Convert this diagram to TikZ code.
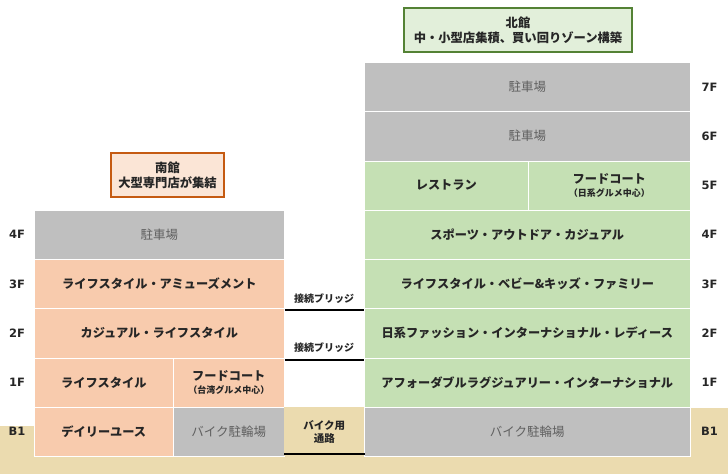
\documentclass[tikz,border=0pt]{standalone}
\usepackage{fontspec}
\newfontfamily\jp{Noto Sans CJK JP}
\newfontfamily\lat{DejaVu Sans}
\definecolor{park}{HTML}{BFBFBF}
\definecolor{peach}{HTML}{F8CBAD}
\definecolor{mint}{HTML}{C5E0B4}
\definecolor{tanbg}{HTML}{EBDBAF}
\definecolor{ink}{HTML}{262626}
\definecolor{parktxt}{HTML}{606060}
\definecolor{ngreen}{HTML}{548235}
\definecolor{ngreenfill}{HTML}{E2EFDA}
\definecolor{sorange}{HTML}{C55A11}
\definecolor{sorangefill}{HTML}{FBE5D6}
\begin{document}
\begin{tikzpicture}[x=1pt,y=-1pt,
  cell/.style={anchor=north west, draw=white, line width=0.6pt, inner sep=0pt,
    minimum height=49.25pt, align=center, text=ink,
    font=\jp\bfseries\fontsize{12.2}{14}\selectfont},
  parkcell/.style={cell, fill=park, text=parktxt, font=\jp\fontsize{12.5}{14}\selectfont},
  shopS/.style={cell, fill=peach},
  shopN/.style={cell, fill=mint},
  floorlbl/.style={font=\lat\bfseries\fontsize{11.5}{12}\selectfont, text=ink},
  titlebox/.style={line width=1.5pt, align=center, inner sep=0pt, minimum height=44pt,
    text=ink, font=\jp\bfseries\fontsize{12.3}{15}\selectfont},
  bridge/.style={line width=2pt, black},
  bridgelbl/.style={font=\jp\bfseries\fontsize{10}{12}\selectfont, text=ink}
]
\useasboundingbox (0,0) rectangle (728,476);
% ground
\fill[tanbg] (0,426) rectangle (728,474);
\fill[tanbg] (691,408) rectangle (728,474);

% titles
\node[titlebox, draw=ngreen, fill=ngreenfill, minimum width=228pt] (ntitle) at (518,30)
  {北館\\中・小型店集積、買い回りゾーン構築};
\node[titlebox, draw=sorange, fill=sorangefill, minimum width=113pt] (stitle) at (167.5,175)
  {南館\\大型専門店が集結};

% south building
\node[parkcell, minimum width=250pt] (s4) at (34,209.75) {駐車場};
\node[shopS, minimum width=250pt] (s3) at (34,259) {ライフスタイル・アミューズメント};
\node[shopS, minimum width=250pt] (s2) at (34,308.25) {カジュアル・ライフスタイル};
\node[shopS, minimum width=139pt] (s1a) at (34,357.5) {ライフスタイル};
\node[shopS, minimum width=111pt] (s1b) at (173,357.5)
  {フードコート\\[-1pt]{\fontsize{9}{11}\selectfont （台湾グルメ中心）}};
\node[shopS, minimum width=139pt] (sB1a) at (34,406.75) {デイリーユース};
\node[parkcell, minimum width=111pt] (sB1b) at (173,406.75) {バイク駐輪場};

% passage
\node[cell, draw=none, fill=tanbg, minimum width=80pt,
  font=\jp\bfseries\fontsize{10.5}{13}\selectfont] (pass) at (284,406.75) {バイク用\\通路};

% north building
\node[parkcell, minimum width=326pt] (n7) at (364,62) {駐車場};
\node[parkcell, minimum width=326pt] (n6) at (364,111.25) {駐車場};
\node[shopN, minimum width=164pt] (n5a) at (364,160.5) {レストラン};
\node[shopN, minimum width=162pt] (n5b) at (528,160.5)
  {フードコート\\[-1pt]{\fontsize{9}{11}\selectfont （日系グルメ中心）}};
\node[shopN, minimum width=326pt] (n4) at (364,209.75) {スポーツ・アウトドア・カジュアル};
\node[shopN, minimum width=326pt] (n3) at (364,259) {ライフスタイル・ベビー\&キッズ・ファミリー};
\node[shopN, minimum width=326pt] (n2) at (364,308.25) {日系ファッション・インターナショナル・レディース};
\node[shopN, minimum width=326pt] (n1) at (364,357.5) {アフォーダブルラグジュアリー・インターナショナル};
\node[parkcell, minimum width=326pt] (nB1) at (364,406.75) {バイク駐輪場};

% floor labels
\node[floorlbl] (l4) at ([xshift=-17pt]s4.west) {4F};
\node[floorlbl] (l3) at ([xshift=-17pt]s3.west) {3F};
\node[floorlbl] (l2) at ([xshift=-17pt]s2.west) {2F};
\node[floorlbl] (l1) at ([xshift=-17pt]s1a.west) {1F};
\node[floorlbl] (lB1) at ([xshift=-17pt]sB1a.west) {B1};
\node[floorlbl] (r7) at ([xshift=19pt]n7.east) {7F};
\node[floorlbl] (r6) at ([xshift=19pt]n6.east) {6F};
\node[floorlbl] (r5) at ([xshift=19pt]n5b.east) {5F};
\node[floorlbl] (r4) at ([xshift=19pt]n4.east) {4F};
\node[floorlbl] (r3) at ([xshift=19pt]n3.east) {3F};
\node[floorlbl] (r2) at ([xshift=19pt]n2.east) {2F};
\node[floorlbl] (r1) at ([xshift=19pt]n1.east) {1F};
\node[floorlbl] (rB1) at ([xshift=19pt]nB1.east) {B1};

% bridges
\draw[bridge] ([yshift=-1.5pt]s3.south east) -- ([yshift=-1.5pt]n3.south west);
\draw[bridge] ([yshift=-1.5pt]s2.south east) -- ([yshift=-1.5pt]n2.south west);
\draw[bridge] ([yshift=2.5pt]pass.south west) -- ([yshift=2.5pt]pass.south east);
\node[bridgelbl] (b3) at (324,299) {接続ブリッジ};
\node[bridgelbl] (b2) at (324,348) {接続ブリッジ};
\end{tikzpicture}
\end{document}
